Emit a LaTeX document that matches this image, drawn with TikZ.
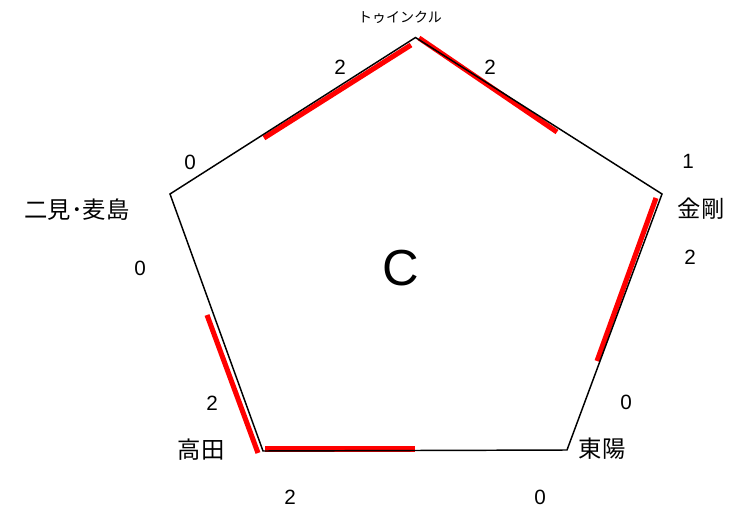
\documentclass[tikz,border=0pt]{standalone}
\usepackage{fontspec}
\setmainfont{Noto Sans CJK JP}
\newfontfamily\latinfont{Liberation Sans}
\usetikzlibrary{positioning}
\tikzset{redseg/.style={red,line width=3.8pt},
  ring/.style={black,line width=1.1pt,line join=miter},
  num/.style={font=\latinfont\fontsize{15.5}{15.5}\selectfont},
  stn/.style={font=\fontsize{17.5}{17.5}\selectfont}}

\begin{document}
\begin{tikzpicture}[x=0.75pt,y=-0.75pt]
  \useasboundingbox(0,0)rectangle(740,510);
  % corners of the pentagon
  \coordinate(T)at(415.5,37.5);
  \coordinate(R)at(662,194);
  \coordinate(BR)at(567,450);
  \coordinate(BL)at(263,451);
  \coordinate(L)at(170,194);
  % red parts first, the outline goes on top
  \draw[redseg](264,138)--(411,45);
  \draw[redseg](419,38)--(557,132);
  \draw[redseg](656,198)--(597,361);
  \draw[redseg](207,315)--(258,453);
  \draw[redseg](265,449)--(415,449);
  \draw[ring](T)--(R)--(BR)--(BL)--(L)--cycle;
  % station names
  \node[font=\fontsize{10.5}{10.5}\selectfont](twinkle)at(400,17){トゥインクル};
  \node[stn](kongo)at(701,209){金剛};
  \node[stn](toyo)at(602,449){東陽};
  \node[stn](takata)at(201,450){高田};
  \node[stn](futami)at(77,210){二見･麦島};
  % counts
  \node[num]at(340,67){2};
  \node[num]at(490,67){2};
  \node[num]at(688,161){1};
  \node[num]at(690,257){2};
  \node[num]at(626,402){0};
  \node[num]at(540,497){0};
  \node[num]at(290,497){2};
  \node[num]at(212,403){2};
  \node[num]at(140,268){0};
  \node[num]at(190,162){0};
  \node[font=\latinfont\fontsize{38}{38}\selectfont](c)at(401,268){C};
\end{tikzpicture}
\end{document}
